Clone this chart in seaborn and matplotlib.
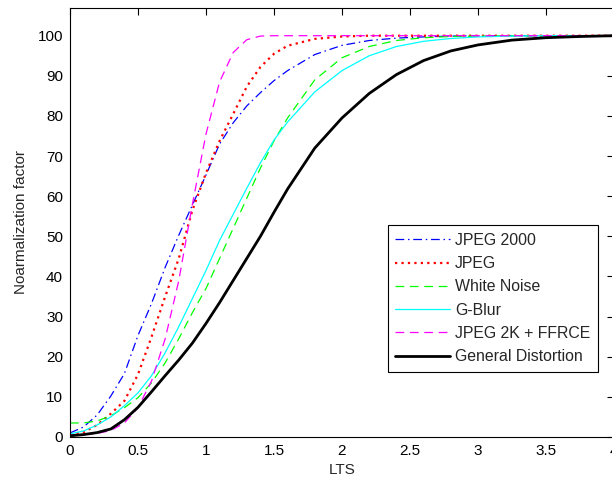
import numpy as np
import pandas as pd
import matplotlib
matplotlib.use("Agg")
import matplotlib.pyplot as plt
import seaborn as sns

lts = [0, 0.1, 0.2, 0.3, 0.4, 0.5, 0.6, 0.7, 0.8, 0.9, 1.0, 1.1, 1.2, 1.3, 1.4,
       1.5, 1.6, 1.8, 2.0, 2.2, 2.4, 2.6, 2.8, 3.0, 3.25, 3.5, 3.75, 4.0]

jpeg2000 = [1.0, 2.5, 5.5, 10.2, 15.8, 25.3, 33.3, 42.3, 50.3, 57.8, 65.3, 73.0, 78.3, 82.5, 85.8,
            88.8, 91.3, 95.3, 97.6, 98.8, 99.4, 99.7, 99.9, 100, 100, 100, 100, 100]
jpeg = [0.7, 1.2, 3.0, 5.8, 9.0, 15.6, 25.0, 35.0, 44.5, 56.5, 65.8, 73.8, 80.5, 87.3, 92.2,
        95.5, 97.5, 99.2, 99.8, 100, 100, 100, 100, 100, 100, 100, 100, 100]
white_noise = [3.5, 3.5, 4.0, 5.3, 7.3, 9.8, 13.5, 18.5, 24.5, 31.0, 37.0, 44.5, 52.0, 59.5, 67.0,
               73.8, 79.5, 89.0, 94.5, 97.3, 98.8, 99.5, 99.8, 99.9, 100, 100, 100, 100]
g_blur = [0.8, 1.5, 3.0, 5.0, 7.8, 11.0, 15.3, 21.0, 27.5, 34.5, 41.5, 49.0, 55.5, 62.0, 68.3,
          74.0, 78.5, 86.0, 91.3, 95.0, 97.3, 98.6, 99.3, 99.7, 99.9, 100, 100, 100]
jpeg2k_ffrce = [0.5, 0.6, 0.9, 1.6, 3.5, 7.3, 14.0, 24.5, 39.0, 58.0, 75.5, 88.5, 95.8, 99.0, 99.9,
                100, 100, 100, 100, 100, 100, 100, 100, 100, 100, 100, 100, 100]
general = [0.3, 0.6, 1.1, 2.0, 4.3, 7.4, 11.3, 15.3, 19.2, 23.4, 28.3, 33.5, 39.0, 44.5, 50.0,
           56.0, 61.8, 72.0, 79.5, 85.6, 90.3, 93.8, 96.2, 97.7, 98.9, 99.5, 99.8, 100]

series_names = ["JPEG 2000", "JPEG", "White Noise", "G-Blur", "JPEG 2K + FFRCE", "General Distortion"]
series_values = [jpeg2000, jpeg, white_noise, g_blur, jpeg2k_ffrce, general]

xtick_vals = [0, 0.5, 1, 1.5, 2, 2.5, 3, 3.5, 4]
xtick_labels = ["0", "0.5", "1", "1.5", "2", "2.5", "3", "3.5", "4"]
ytick_vals = [0, 10, 20, 30, 40, 50, 60, 70, 80, 90, 100]

sns.set_style("white")
plt.rcParams["font.family"] = ["Liberation Sans", "DejaVu Sans"]

fig = plt.figure(figsize=(6.12, 4.82), dpi=100)
ax = fig.add_axes([70 / 612, 45 / 482, 544 / 612, 429 / 482])

styles = [
    dict(color=(0, 0, 1), lw=0.9, ls=(0, (7, 3, 1.2, 3))),
    dict(color=(1, 0, 0), lw=1.6, ls=(0, (1, 1.9))),
    dict(color=(0, 1, 0), lw=0.9, ls=(0, (7, 4.5))),
    dict(color=(0, 1, 1), lw=0.9, ls="-"),
    dict(color=(1, 0, 1), lw=0.9, ls=(0, (7, 4.5))),
    dict(color=(0, 0, 0), lw=2.0, ls="-"),
]

for name, vals, st in zip(series_names, series_values, styles):
    df = pd.DataFrame({"LTS": lts, "val": vals})
    sns.lineplot(data=df, x="LTS", y="val", ax=ax, color=st["color"],
                 linewidth=st["lw"], linestyle=st["ls"], label=name)

ax.set_xlim(0, 4)
ax.set_ylim(0, 106.9)
ax.set_xticks(xtick_vals)
ax.set_xticklabels(xtick_labels)
ax.set_yticks(ytick_vals)
ax.tick_params(direction="in", top=True, right=True, length=5, width=0.8,
               labelsize=11, colors="black", pad=5)
for s in ax.spines.values():
    s.set_color("black")
    s.set_linewidth(0.8)
ax.set_xlabel("LTS", fontsize=11, labelpad=4)
ax.set_ylabel("Noarmalization factor", fontsize=11, labelpad=7)

leg = ax.legend(loc="upper right", bbox_to_anchor=(598 / 612, (482 - 225) / 482),
                bbox_transform=fig.transFigure, fontsize=11.4, frameon=True,
                fancybox=False, shadow=False, handlelength=3.45, handletextpad=0.3,
                labelspacing=0.52, borderpad=0.5, borderaxespad=0)
leg.get_frame().set_edgecolor("black")
leg.get_frame().set_linewidth(0.8)
leg.get_frame().set_facecolor("white")
leg.get_frame().set_alpha(1)

fig.savefig("out.png", dpi=100, facecolor="white")
